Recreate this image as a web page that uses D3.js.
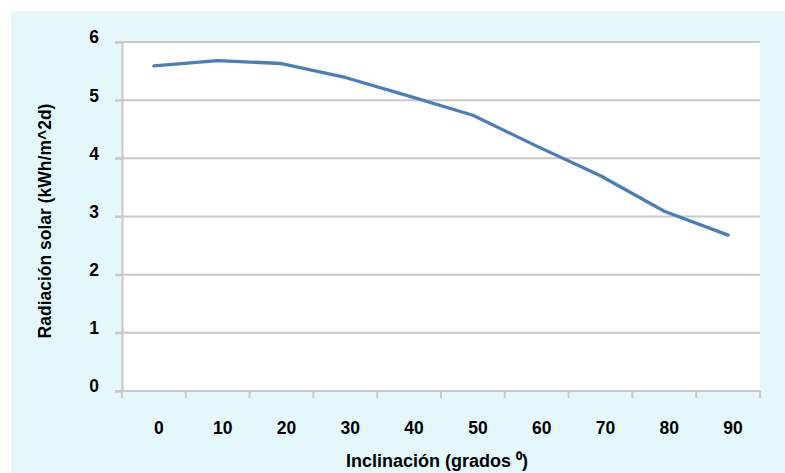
<!DOCTYPE html>
<html><head><meta charset="utf-8">
<script src="https://cdn.jsdelivr.net/npm/d3@7"></script>
<style>body{margin:0;background:#fff;}svg{display:block;font-family:"Liberation Sans",Arial,sans-serif;}</style>
</head><body>
<svg id="c" width="785" height="473"></svg>
<script>
const categories = ["0","10","20","30","40","50","60","70","80","90"];
const radiation = [5.59, 5.68, 5.63, 5.39, 5.07, 4.74, 4.21, 3.70, 3.09, 2.68];
const yTicks = [0,1,2,3,4,5,6];

const FS = 17.5;
const svg = d3.select("#c");
svg.append("rect").attr("x",11).attr("y",11).attr("width",774).attr("height",462).attr("fill","#e4f8fc");

const m = {left:122, right:760, top:42, bottom:391};
const x = d3.scaleBand().domain(categories).range([m.left, m.right]);
const y = d3.scaleLinear().domain([0,6]).range([m.bottom, m.top]);

svg.append("rect").attr("x",m.left).attr("y",m.top).attr("width",m.right-m.left).attr("height",m.bottom-m.top).attr("fill","#fff");

// gridlines
svg.append("g").selectAll("line").data(yTicks.filter(d=>d>0)).join("line")
  .attr("x1",m.left-7).attr("x2",m.right).attr("y1",d=>y(d)).attr("y2",d=>y(d))
  .attr("stroke","#c8c8c8").attr("stroke-width",2);

// y axis
const ya = svg.append("g").attr("transform",`translate(${m.left},0)`)
  .call(d3.axisLeft(y).tickValues(yTicks).tickFormat(d3.format("d")).tickSize(7).tickPadding(16));
ya.select(".domain").attr("stroke","#c8c8c8").attr("stroke-width",2);
ya.selectAll(".tick line").attr("stroke","#c8c8c8").attr("stroke-width",2);
ya.selectAll("text").attr("font-size",FS).attr("font-weight","bold").attr("fill","#000").attr("font-family","Liberation Sans, Arial, sans-serif").attr("dy","0.05em");

// x axis
const xa = svg.append("g").attr("transform",`translate(0,${m.bottom})`)
  .call(d3.axisBottom(x).tickSize(0).tickPadding(31));
xa.select(".domain").attr("stroke","#c8c8c8").attr("stroke-width",2).attr("d",`M${m.left-7},0H${m.right}`);
xa.selectAll("text").attr("font-size",FS).attr("font-weight","bold").attr("fill","#000").attr("font-family","Liberation Sans, Arial, sans-serif").attr("dx",5);
const bounds = categories.map(c=>x(c)).concat([x(categories[categories.length-1])+x.bandwidth()]);
xa.append("g").selectAll("line").data(bounds).join("line")
  .attr("x1",d=>d).attr("x2",d=>d).attr("y1",0).attr("y2",7)
  .attr("stroke","#c8c8c8").attr("stroke-width",2);

// line
const line = d3.line().x((d,i)=>x(categories[i])+x.bandwidth()/2).y(d=>y(d));
svg.append("path").datum(radiation).attr("d",line).attr("fill","none")
  .attr("stroke","#4a7ebb").attr("stroke-width",3.3).attr("stroke-linejoin","round").attr("stroke-linecap","round");

// titles
svg.append("text").attr("x",437).attr("y",467).attr("text-anchor","middle")
  .attr("font-size",18).attr("font-weight","bold").attr("fill","#000").text("Inclinación (grados ⁰)");
svg.append("text").attr("transform","translate(51,221) rotate(-90)").attr("text-anchor","middle")
  .attr("font-size",FS).attr("font-weight","bold").attr("fill","#000").text("Radiación solar (kWh/m^2d)");
</script>
</body></html>
